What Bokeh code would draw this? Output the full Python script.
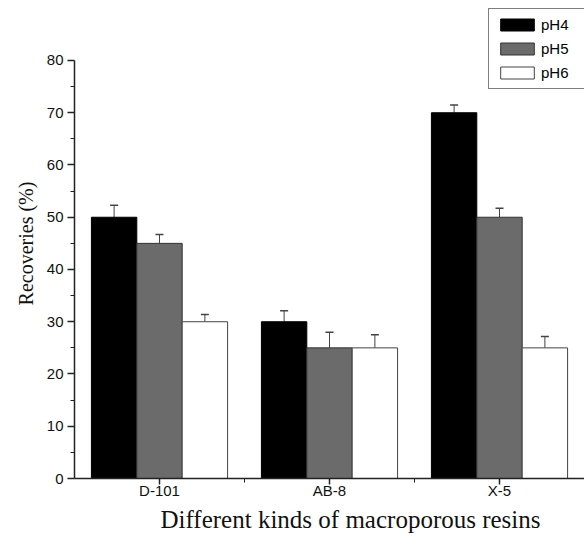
import numpy as np
from bokeh.plotting import figure
from bokeh.models import (ColumnDataSource, FixedTicker, Whisker, TeeHead, Legend,
                          LegendItem, Range1d, Title)
from bokeh.embed import file_html
from bokeh.resources import INLINE

# ---- data ----
resins = ["D-101", "AB-8", "X-5"]
series = ["pH4", "pH5", "pH6"]
ph4 = [50, 30, 70]
ph5 = [45, 25, 50]
ph6 = [30, 25, 25]
ph4_err = [2.3, 2.1, 1.5]
ph5_err = [1.7, 3.0, 1.7]
ph6_err = [1.4, 2.5, 2.2]
y_ticks = [0, 10, 20, 30, 40, 50, 60, 70, 80]
y_minor = [5, 15, 25, 35, 45, 55, 65, 75]

values = [ph4, ph5, ph6]
errors = [ph4_err, ph5_err, ph6_err]
fills = ["#000000", "#6b6b6b", "#ffffff"]
outlines = ["#000000", "#333333", "#444444"]
bar_w = 0.267
offsets = [-bar_w, 0.0, bar_w]

p = figure(width=584, height=536, x_range=Range1d(0.5, 3.5), y_range=Range1d(0, 89.95),
           output_backend="svg", toolbar_location=None,
           min_border_left=74, min_border_right=0, min_border_top=8, min_border_bottom=58)
p.outline_line_color = None
p.xgrid.visible = False
p.ygrid.visible = False
p.background_fill_color = "white"

items = []
base_x = np.arange(1, len(resins) + 1)
for i, name in enumerate(series):
    src = ColumnDataSource(dict(
        x=base_x + offsets[i],
        top=values[i],
        upper=[v + e for v, e in zip(values[i], errors[i])],
    ))
    r = p.vbar(x="x", top="top", width=bar_w, bottom=0, source=src,
               fill_color=fills[i], line_color=outlines[i], line_width=1)
    w = Whisker(base="x", lower="top", upper="upper", source=src, dimension="height",
                line_color="#444444", line_width=1,
                upper_head=TeeHead(size=8, line_color="#444444", line_width=1.5),
                lower_head=None)
    p.add_layout(w)
    items.append(LegendItem(label=name, renderers=[r]))

legend = Legend(items=items, location=(414, 389), padding=7, spacing=7,
                glyph_width=42, glyph_height=15, label_height=15, label_width=60,
                label_standoff=3, label_text_font="Liberation Sans",
                label_text_font_size="15px", label_text_color="#000000",
                border_line_color="#000000", border_line_width=1,
                background_fill_color="white", background_fill_alpha=1.0,
                margin=0)
p.add_layout(legend)

# y axis
ya = p.yaxis[0]
ya.ticker = FixedTicker(ticks=y_ticks, minor_ticks=y_minor)
ya.bounds = (0, 80)
ya.major_tick_out = 7
ya.major_tick_in = 0
ya.minor_tick_out = 4
ya.minor_tick_in = 0
ya.major_label_standoff = 4
ya.major_label_text_font = "Liberation Sans"
ya.major_label_text_font_size = "15px"
ya.major_label_text_color = "#111111"
ya.axis_label = "Recoveries (%)"
ya.axis_label_text_font = "Liberation Serif"
ya.axis_label_text_font_size = "20px"
ya.axis_label_text_font_style = "normal"
ya.axis_label_text_color = "#111111"
ya.axis_label_standoff = 7
ya.axis_line_width = 1.5
ya.axis_line_color = "#222222"
ya.major_tick_line_color = "#222222"
ya.minor_tick_line_color = "#222222"
ya.major_tick_line_width = 1.5

# x axis
xa = p.xaxis[0]
xa.ticker = FixedTicker(ticks=list(base_x), minor_ticks=[1.5, 2.5])
xa.major_label_overrides = {int(k): r for k, r in zip(base_x, resins)}
xa.major_tick_out = 6
xa.major_tick_in = 0
xa.minor_tick_out = 4
xa.minor_tick_in = 0
xa.major_label_standoff = -3
xa.major_label_text_font = "Liberation Sans"
xa.major_label_text_font_size = "15px"
xa.major_label_text_color = "#111111"
xa.axis_line_width = 1.5
xa.axis_line_color = "#222222"
xa.major_tick_line_color = "#222222"
xa.minor_tick_line_color = "#222222"
xa.major_tick_line_width = 1.5

t = Title(text="Different kinds of macroporous resins", align="left", offset=86,
          text_font="Liberation Serif", text_font_size="25px", text_font_style="normal",
          text_color="#111111", standoff=4)
p.add_layout(t, "below")

open("out.html", "w").write(file_html(p, INLINE))
